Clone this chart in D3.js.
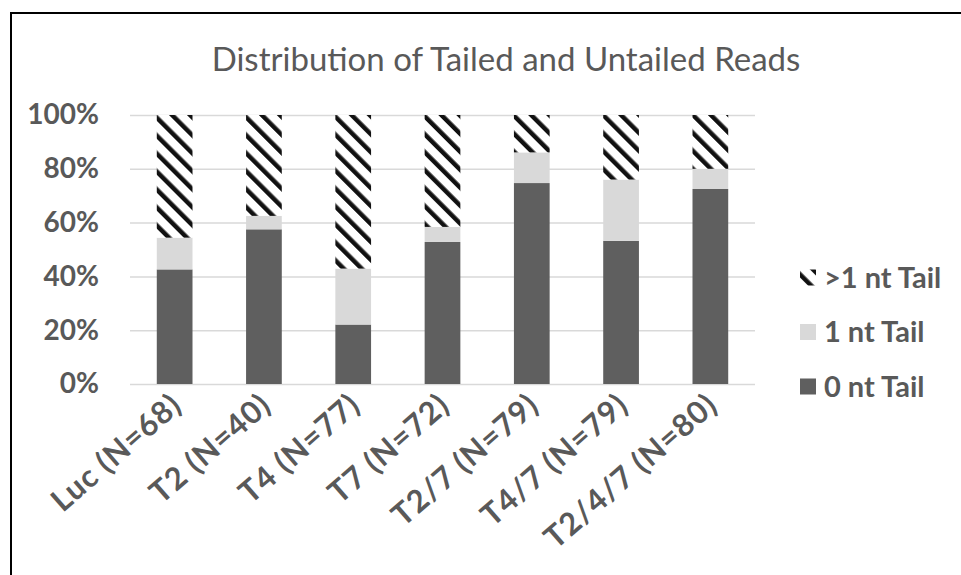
<!DOCTYPE html>
<html>
<head>
<meta charset="utf-8">
<script src="https://cdn.jsdelivr.net/npm/d3@7"></script>
<style>
    body { margin: 0; background: #fff; }
    svg { display: block; font-family: Lato, "Open Sans", sans-serif; }
</style>
</head>
<body>
<svg width="961" height="575"></svg>
<script>
// percent of reads per construct
var categories = ["Luc (N=68)", "T2 (N=40)", "T4 (N=77)", "T7 (N=72)", "T2/7 (N=79)", "T4/7 (N=79)", "T2/4/7 (N=80)"];
var zeroTail = [42.6, 57.5, 22.1, 52.8, 74.7, 53.2, 72.5];
var oneTail = [11.8, 5.0, 20.8, 5.6, 11.4, 22.8, 7.5];
var longTail = [45.6, 37.5, 57.1, 41.6, 13.9, 24.0, 20.0];
var seriesNames = ["0 nt Tail", "1 nt Tail", ">1 nt Tail"];
var yTicks = [0, 20, 40, 60, 80, 100];

var svg = d3.select("svg"),
    width = +svg.attr("width"),
    height = +svg.attr("height");

var textColor = "#595959";

// chart frame (only top and left edges are in view)
svg.append("path")
    .attr("d", "M11," + height + "V13H" + width)
    .attr("fill", "none")
    .attr("stroke", "#000")
    .attr("stroke-width", 2);

// striped fill for the >1 nt series
var defs = svg.append("defs");
var pat = defs.append("pattern")
    .attr("id", "stripes")
    .attr("patternUnits", "userSpaceOnUse")
    .attr("width", 12.7)
    .attr("height", 12.7)
    .attr("patternTransform", "rotate(-45)");
pat.append("rect").attr("width", 12.7).attr("height", 12.7).attr("fill", "#fff");
pat.append("rect").attr("width", 4.5).attr("height", 12.7).attr("fill", "#111");

var fills = ["#5f5f5f", "#d9d9d9", "url(#stripes)"];

var x = d3.scaleBand()
    .domain(categories)
    .range([130, 755])
    .paddingInner(0.6)
    .paddingOuter(0.3);

var y = d3.scaleLinear()
    .domain([0, 100])
    .range([384, 115]);

// title
svg.append("text")
    .attr("x", 506)
    .attr("y", 71)
    .attr("text-anchor", "middle")
    .attr("font-size", 33)
    .attr("fill", textColor)
    .text("Distribution of Tailed and Untailed Reads");

// gridlines + y labels
var yAxis = svg.append("g")
    .attr("transform", "translate(130,0)")
    .call(d3.axisLeft(y).tickValues(yTicks).tickSize(-625).tickFormat(function (d) {
        return d + "%";
    }));
yAxis.select(".domain").remove();
yAxis.selectAll(".tick line")
    .attr("stroke", "#d9d9d9")
    .attr("stroke-width", 1.5);
yAxis.selectAll(".tick text")
    .attr("x", -31)
    .attr("fill", textColor)
    .attr("font-size", 28)
    .attr("font-weight", "bold")
    .attr("font-family", "Lato, sans-serif");

// stacked bars
var rows = categories.map(function (c, i) {
    return { cat: c, s0: zeroTail[i], s1: oneTail[i], s2: longTail[i] };
});
var stack = d3.stack().keys(["s0", "s1", "s2"]);
var layers = stack(rows);

svg.append("g")
    .selectAll("g")
    .data(layers)
    .enter().append("g")
    .attr("fill", function (d, i) {
        return fills[i];
    })
    .selectAll("rect")
    .data(function (d) { return d; })
    .enter().append("rect")
    .attr("x", function (d) { return x(d.data.cat); })
    .attr("width", x.bandwidth())
    .attr("y", function (d) { return y(Math.min(d[1], 100)); })
    .attr("height", function (d) { return y(d[0]) - y(Math.min(d[1], 100)); });

// rotated category labels
svg.append("g")
    .selectAll("text")
    .data(categories)
    .enter().append("text")
    .attr("transform", function (d) {
        return "translate(" + (x(d) + x.bandwidth() / 2 + 9) + ",408) rotate(-41)";
    })
    .attr("text-anchor", "end")
    .attr("font-size", 31)
    .attr("letter-spacing", 1)
    .attr("font-weight", "bold")
    .attr("fill", textColor)
    .text(function (d) { return d; });

// legend, top entry is >1 nt
var legendY = [332 + 54.5, 332, 332 - 54.5];
var legend = svg.append("g")
    .selectAll("g")
    .data(seriesNames)
    .enter().append("g")
    .attr("transform", function (d, i) {
        return "translate(800," + legendY[i] + ")";
    });
legend.append("rect")
    .attr("x", 0)
    .attr("y", -8)
    .attr("width", 16)
    .attr("height", 16)
    .attr("fill", function (d, i) { return fills[i]; });
legend.append("text")
    .attr("x", 24)
    .attr("dy", "0.35em")
    .attr("font-size", 29)
    .attr("font-weight", "bold")
    .attr("fill", textColor)
    .text(function (d) { return d; });
</script>
</body>
</html>
